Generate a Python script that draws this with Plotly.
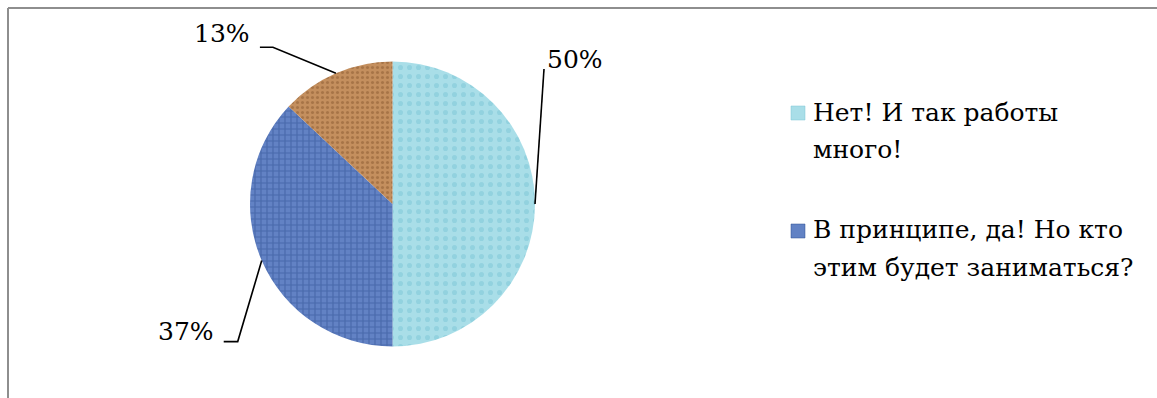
import math
import plotly.graph_objects as go

# Survey answers and their shares (%)
labels = [
    "Нет! И так работы много!",
    "В принципе, да! Но кто этим будет заниматься?",
    "Другое",
]
values = [50, 37, 13]
legend_lines = [
    ["Нет! И так работы", "много!"],
    ["В принципе, да! Но кто", "этим будет заниматься?"],
]

# Styling
W, H = 1157, 398
slice_bg = ["#A9DEE8", "#6282C4", "#C48F5E"]
slice_fg = ["#7CC6D6", "#2F4F93", "#8A5A30"]
slice_shape = [".", "+", "."]
FONT = "DejaVu Serif"

# Pie geometry in pixels
CX, CY, R = 392.5, 204.0, 142.5

# Leader path offsets per slice: edge -> elbow, elbow -> tail, tail -> label
elbow_off = [(9, -135), (-24, 81), (-63, -26)]
tail_off = [(0, 0), (-14, 0), (-13, 0)]
label_off = [(1, -10), (-8, -10), (-8, -14)]
label_anchor = ["left", "right", "right"]


def px(x):
    return x / W


def py(y):
    return 1 - y / H


fig = go.Figure(
    go.Pie(
        labels=labels,
        values=values,
        sort=False,
        direction="clockwise",
        rotation=0,
        textinfo="none",
        hoverinfo="label+percent",
        showlegend=False,
        marker=dict(
            colors=slice_bg,
            line=dict(width=0),
            pattern=dict(
                shape=slice_shape,
                fgcolor=slice_fg,
                bgcolor=slice_bg,
                size=[9, 6, 5],
                solidity=[0.25, 0.35, 0.3],
                fillmode="overlay",
            ),
        ),
        domain=dict(x=[px(CX - R), px(CX + R)], y=[py(CY + R), py(CY - R)]),
    )
)

shapes = []
annotations = []

# Percentage labels with leader lines, positioned from each slice's mid angle
total = sum(values)
start = 0.0
for i, v in enumerate(values):
    mid = start + v / total * 180.0
    start += v / total * 360.0
    a = math.radians(mid)
    ex, ey = CX + R * math.sin(a), CY - R * math.cos(a)
    bx, by = ex + elbow_off[i][0], ey + elbow_off[i][1]
    tx, ty = bx + tail_off[i][0], by + tail_off[i][1]
    path = f"M {px(ex)},{py(ey)} L {px(bx)},{py(by)} L {px(tx)},{py(ty)}"
    shapes.append(dict(type="path", xref="paper", yref="paper", path=path,
                       line=dict(color="black", width=1.6)))
    lx, ly = tx + label_off[i][0], ty + label_off[i][1]
    annotations.append(dict(
        x=px(lx), y=py(ly), xref="paper", yref="paper",
        text=f"{round(v / total * 100)}%", showarrow=False,
        xanchor=label_anchor[i], yanchor="middle",
        font=dict(family=FONT, size=25, color="black"),
    ))

# Legend (first two categories)
leg_x, leg_marker = 811, 14
leg_rows = [(112, 149), (230, 267)]
for i, lines in enumerate(legend_lines):
    y1, y2 = leg_rows[i]
    shapes.append(dict(
        type="rect", xref="paper", yref="paper",
        x0=px(791), x1=px(791 + leg_marker),
        y0=py(y1 - 6), y1=py(y1 - 6 + leg_marker),
        fillcolor=slice_bg[i], line=dict(width=0.5, color=slice_fg[i]),
    ))
    for line, yy in zip(lines, (y1, y2)):
        annotations.append(dict(
            x=px(leg_x), y=py(yy), xref="paper", yref="paper",
            text=line, showarrow=False, xanchor="left", yanchor="middle",
            font=dict(family=FONT, size=25, color="black"),
        ))

# Chart frame (top and left edges)
frame = "#8E8E8E"
shapes.append(dict(type="line", xref="paper", yref="paper",
                   x0=px(8), x1=1, y0=py(8), y1=py(8),
                   line=dict(color=frame, width=2)))
shapes.append(dict(type="line", xref="paper", yref="paper",
                   x0=px(8), x1=px(8), y0=py(8), y1=0,
                   line=dict(color=frame, width=2)))

fig.update_layout(
    width=W, height=H,
    margin=dict(l=0, r=0, t=0, b=0),
    paper_bgcolor="white", plot_bgcolor="white",
    font=dict(family=FONT),
    shapes=shapes, annotations=annotations,
)

fig.write_html("out.html")
